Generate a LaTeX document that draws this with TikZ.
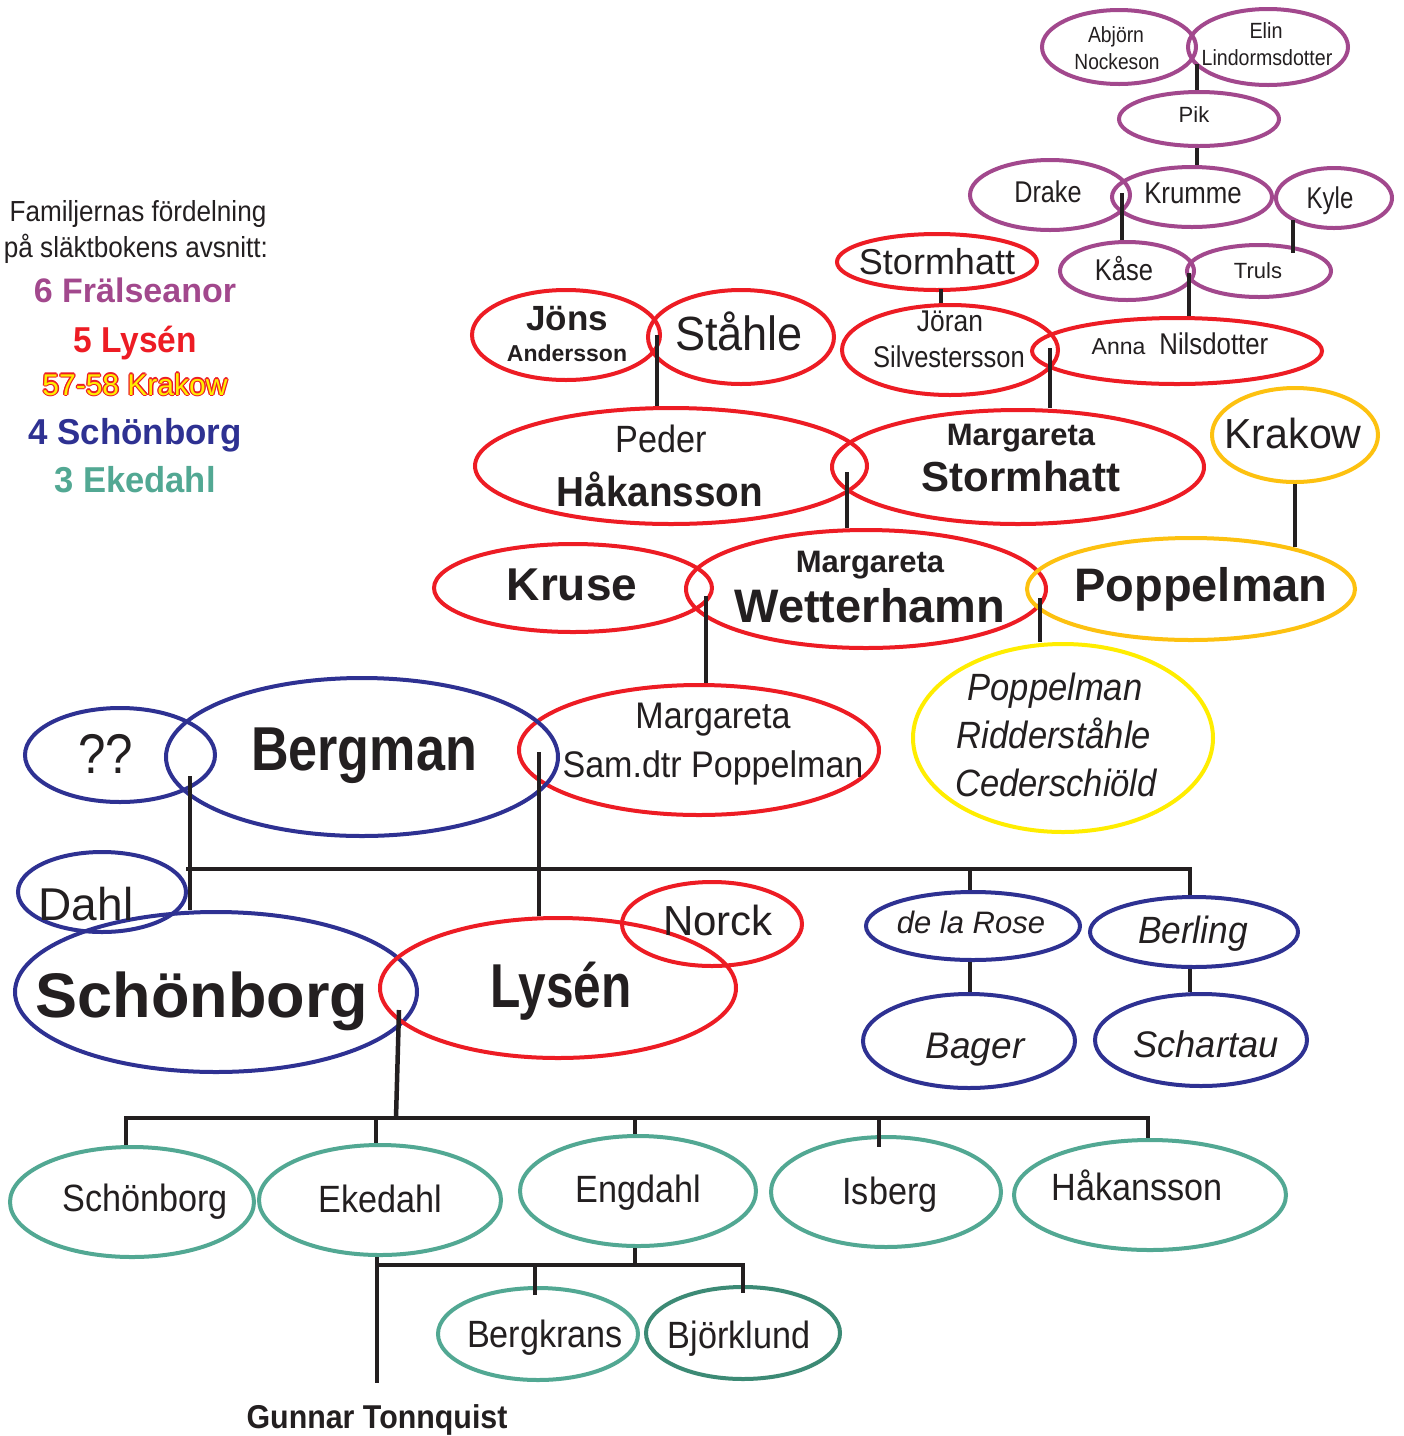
\documentclass[tikz,border=0pt]{standalone}
\usepackage{fontspec}
\setmainfont{Liberation Sans}
\usepackage{graphicx}
\usetikzlibrary{shapes.geometric}
\definecolor{ink}{RGB}{35,31,32}
\definecolor{fpurple}{RGB}{162,72,141}
\definecolor{lred}{RGB}{237,28,36}
\definecolor{kgold}{RGB}{253,193,16}
\definecolor{pyellow}{RGB}{255,237,0}
\definecolor{sblue}{RGB}{46,49,146}
\definecolor{eteal}{RGB}{82,168,147}
\definecolor{dteal}{RGB}{60,138,117}
\newsavebox\olbox
\newcommand\outlined[1]{\setbox\olbox=\hbox{#1}%
 \rlap{\color{lred}\hspace{-1.3pt}\copy\olbox}%
 \rlap{\color{lred}\hspace{1.3pt}\copy\olbox}%
 \rlap{\color{lred}\raisebox{1.3pt}{\copy\olbox}}%
 \rlap{\color{lred}\raisebox{-1.3pt}{\copy\olbox}}%
 \rlap{\color{lred}\hspace{0.9pt}\raisebox{0.9pt}{\copy\olbox}}%
 \rlap{\color{lred}\hspace{-0.9pt}\raisebox{0.9pt}{\copy\olbox}}%
 \rlap{\color{lred}\hspace{0.9pt}\raisebox{-0.9pt}{\copy\olbox}}%
 \rlap{\color{lred}\hspace{-0.9pt}\raisebox{-0.9pt}{\copy\olbox}}%
 {\color{pyellow}\copy\olbox}}
\tikzset{
  famshape/.style={ellipse,inner sep=0pt,line width=4pt},
  conn/.style={draw=ink,line width=4.5pt},
  lbl/.style={anchor=base,inner sep=0pt,text=ink}
}
\newcommand\famell[6]{\node[famshape,draw=#6,minimum width=#4pt*2,minimum height=#5pt*2] (#1) at (#2,#3) {};}
\newcommand\txt[6]{\node[lbl] (#1) at (#2,#3) {\fontsize{#4}{#4}\selectfont\scalebox{#5}[1]{#6}};}
\begin{document}
\begin{tikzpicture}[x=1pt,y=-1pt]
\useasboundingbox (0,0) rectangle (1404,1436);
\fill[white] (0,0) rectangle (1404,1436);
% ---------- ellipses ----------
\famell{abjorn}{1119}{47}{77}{37}{fpurple}
\famell{elin}{1268}{47}{80}{38}{fpurple}
\famell{pik}{1199}{119}{80}{27}{fpurple}
\famell{drake}{1050}{195}{80}{35}{fpurple}
\famell{krumme}{1192}{197}{80}{30}{fpurple}
\famell{kyle}{1334}{198}{58}{30}{fpurple}
\famell{kase}{1127}{271}{67}{29}{fpurple}
\famell{truls}{1259}{271}{72}{26}{fpurple}
\famell{stormS}{937}{262}{100}{28}{lred}
\famell{joran}{950}{350}{108}{45}{lred}
\famell{anna}{1177}{351}{145}{33}{lred}
\famell{jons}{566}{335}{94}{45}{lred}
\famell{stahle}{741}{337}{93}{47}{lred}
\famell{peder}{671}{466}{196}{58}{lred}
\famell{margS}{1018}{467}{186}{57}{lred}
\famell{krakow}{1295}{435}{83}{47}{kgold}
\famell{kruse}{573}{588}{139}{44}{lred}
\famell{wetter}{866}{589}{180}{59}{lred}
\famell{poppel}{1191}{589}{164}{51}{kgold}
\famell{margSam}{699}{750}{180}{65}{lred}
\famell{poppelY}{1063}{738}{150}{94}{pyellow}
\famell{qq}{120}{755}{95}{47}{sblue}
\famell{bergman}{362}{757}{196}{79}{sblue}
\famell{dahl}{102}{892}{84}{40}{sblue}
\famell{schonB}{216}{992}{201}{80}{sblue}
\famell{lysen}{558}{988}{178}{70}{lred}
\famell{norck}{712}{924}{90}{42}{lred}
\famell{delarose}{973}{926}{107}{34}{sblue}
\famell{berling}{1194}{932}{104}{35}{sblue}
\famell{bager}{969}{1041}{106}{47}{sblue}
\famell{schartau}{1201}{1040}{106}{46}{sblue}
\famell{schonG}{132}{1202}{122}{55}{eteal}
\famell{ekedahl}{380}{1200}{121}{55}{eteal}
\famell{engdahl}{638}{1191}{118}{55}{eteal}
\famell{isberg}{886}{1192}{115}{55}{eteal}
\famell{hakG}{1150}{1195}{136}{55}{eteal}
\famell{bergkrans}{538}{1334}{100}{46}{eteal}
\famell{bjorklund}{743}{1333}{97}{46}{dteal}
% ---------- junction coordinates ----------
\coordinate (j1) at (1197,64);
\coordinate (j2) at (1122,193);
\coordinate (k1) at (1293,220);
\coordinate (k2) at (1293,253);
\coordinate (j3) at (1189,273);
\coordinate (j4) at (941,289);
\coordinate (j5) at (1050,348);
\coordinate (j6) at (657,335);
\coordinate (j7) at (847,472);
\coordinate (kp) at (1295,547);
\coordinate (j8) at (706,596);
\coordinate (j9) at (1040,598);
\coordinate (j10) at (190,776);
\coordinate (j11) at (539,752);
\coordinate (hL) at (186,869);
\coordinate (hR) at (1190,869);
\coordinate (hD) at (970,869);
\coordinate (j12) at (399,1010);
\coordinate (b2) at (396,1118);
\coordinate (b2L) at (126,1118);
\coordinate (b2R) at (1148,1118);
\coordinate (b2a) at (376,1118);
\coordinate (b2b) at (635,1118);
\coordinate (b2c) at (879,1118);
\coordinate (isb) at (879,1147);
\coordinate (b3) at (635,1265);
\coordinate (b3L) at (377,1265);
\coordinate (b3R) at (743,1265);
\coordinate (b3a) at (535,1265);
\coordinate (bk) at (535,1295);
\coordinate (bj) at (743,1293);
\coordinate (gt) at (377,1383);
% ---------- connectors ----------
\draw[conn] (j1) -- (j1 |- pik.north);
\draw[conn] (j1 |- pik.south) -- (j1 |- krumme.north);
\draw[conn] (j2) -- (j2 |- kase.north);
\draw[conn] (k1) -- (k2);
\draw[conn] (j3) -- (j3 |- anna.north);
\draw[conn] (j4) -- (j4 |- joran.north);
\draw[conn] (j5) -- (j5 |- margS.north);
\draw[conn] (j6) -- (j6 |- peder.north);
\draw[conn] (j7) -- (j7 |- wetter.north);
\draw[conn] (krakow.south) -- (kp);
\draw[conn] (j8) -- (j8 |- margSam.north);
\draw[conn] (j9) -- (j9 |- poppelY.north);
\draw[conn] (j10) -- (j10 |- schonB.north);
\draw[conn] (j11) -- (j11 |- lysen.north);
\draw[conn] (hL) -- (hR) -- (hR |- berling.north);
\draw[conn] (hD) -- (hD |- delarose.north);
\draw[conn] (hD |- delarose.south) -- (hD |- bager.north);
\draw[conn] (hR |- berling.south) -- (hR |- schartau.north);
\draw[conn] (j12) -- (b2);
\draw[conn] (b2L |- schonG.north) -- (b2L) -- (b2R) -- (b2R |- hakG.north);
\draw[conn] (b2a) -- (b2a |- ekedahl.north);
\draw[conn] (b2b) -- (b2b |- engdahl.north);
\draw[conn] (b2c) -- (isb);
\draw[conn] (b3 |- engdahl.south) -- (b3);
\draw[conn] (bk) -- (b3a |- b3L) -- (b3L) -- (b3R) -- (bj);
\draw[conn] (b3L |- ekedahl.south) -- (gt);
% ---------- legend ----------
\txt{lg1}{138}{221}{29}{0.9}{Familjernas fördelning}
\txt{lg2}{136}{257}{29}{0.9}{på släktbokens avsnitt:}
\txt{lg3}{135}{302}{34}{1.0}{\bfseries\color{fpurple}6 Frälseanor}
\txt{lg4}{135}{352}{36}{0.93}{\bfseries\color{lred}5 Lysén}
\txt{lg5}{135}{395}{30}{1.0}{\outlined{57-58 Krakow}}
\txt{lg6}{135}{444}{36}{0.97}{\bfseries\color{sblue}4 Schönborg}
\txt{lg7}{135}{492}{36}{0.96}{\bfseries\color{eteal}3 Ekedahl}
% ---------- purple labels ----------
\txt{t-abjorn}{1116}{42}{22}{0.88}{Abjörn}
\txt{t-nockeson}{1117}{69}{22}{0.87}{Nockeson}
\txt{t-elin}{1266}{38}{22}{0.9}{Elin}
\txt{t-lindorms}{1267}{65}{22}{0.89}{Lindormsdotter}
\txt{t-pik}{1194}{122}{22}{1.0}{Pik}
\txt{t-drake}{1048}{202}{30}{0.84}{Drake}
\txt{t-krumme}{1193}{203}{30}{0.86}{Krumme}
\txt{t-kyle}{1330}{208}{30}{0.8}{Kyle}
\txt{t-kase}{1124}{280}{30}{0.85}{Kåse}
\txt{t-truls}{1258}{278}{22}{1.0}{Truls}
% ---------- red labels ----------
\txt{t-stormS}{937}{274}{36}{1.0}{Stormhatt}
\txt{t-joran}{950}{331}{30}{0.88}{Jöran}
\txt{t-silv}{949}{367}{30}{0.85}{Silvestersson}
\node[lbl] (t-anna) at (1180,354) {{\fontsize{23}{23}\selectfont Anna}\hspace{14pt}{\fontsize{30}{30}\selectfont\scalebox{0.86}[1]{Nilsdotter}}};
\txt{t-jons}{567}{330}{35}{1.0}{\bfseries Jöns}
\txt{t-andersson}{567}{361}{23}{1.0}{\bfseries Andersson}
\txt{t-stahle}{739}{350}{48}{0.94}{Ståhle}
\txt{t-peder}{661}{452}{38}{0.9}{Peder}
\txt{t-hakansson}{660}{506}{42}{0.92}{\bfseries Håkansson}
\txt{t-margS1}{1021}{445}{31}{1.0}{\bfseries Margareta}
\txt{t-margS2}{1021}{491}{42}{1.0}{\bfseries Stormhatt}
\txt{t-krakow}{1293}{448}{42}{0.98}{Krakow}
\txt{t-kruse}{572}{600}{46}{1.0}{\bfseries Kruse}
\txt{t-margW1}{870}{572}{31}{1.0}{\bfseries Margareta}
\txt{t-margW2}{870}{622}{47}{1.0}{\bfseries Wetterhamn}
\txt{t-poppel}{1201}{601}{47}{1.0}{\bfseries Poppelman}
\txt{t-margSam1}{713}{728}{37}{0.92}{Margareta}
\txt{t-margSam2}{713}{777}{37}{0.92}{Sam.dtr Poppelman}
\txt{t-py1}{1055}{700}{38}{0.91}{\itshape Poppelman}
\txt{t-py2}{1054}{748}{38}{0.91}{\itshape Ridderståhle}
\txt{t-py3}{1056}{796}{38}{0.91}{\itshape Cederschiöld}
% ---------- blue labels ----------
\txt{t-qq}{106}{773}{56}{0.88}{??}
\txt{t-bergman}{364}{770}{62}{0.84}{\bfseries Bergman}
\txt{t-dahl}{86}{920}{46}{1.0}{Dahl}
\txt{t-schonB}{202}{1017}{63}{1.0}{\bfseries Schönborg}
\txt{t-lysen}{561}{1007}{62}{0.8}{\bfseries Lysén}
\txt{t-norck}{718}{935}{42}{1.0}{Norck}
\txt{t-delarose}{971}{933}{31}{1.0}{\itshape de la Rose}
\txt{t-berling}{1193}{943}{38}{0.93}{\itshape Berling}
\txt{t-bager}{975}{1058}{37}{1.0}{\itshape Bager}
\txt{t-schartau}{1206}{1057}{37}{0.98}{\itshape Schartau}
% ---------- green labels ----------
\txt{t-schonG}{145}{1211}{38}{0.9}{Schönborg}
\txt{t-ekedahl}{380}{1212}{38}{0.9}{Ekedahl}
\txt{t-engdahl}{638}{1202}{38}{0.9}{Engdahl}
\txt{t-isberg}{890}{1204}{38}{0.9}{Isberg}
\txt{t-hakG}{1137}{1200}{38}{0.9}{Håkansson}
\txt{t-bergkrans}{545}{1347}{38}{0.9}{Bergkrans}
\txt{t-bjorklund}{739}{1348}{38}{0.9}{Björklund}
\txt{t-gunnar}{377}{1428}{33}{0.92}{\bfseries Gunnar Tonnquist}
\end{tikzpicture}
\end{document}
